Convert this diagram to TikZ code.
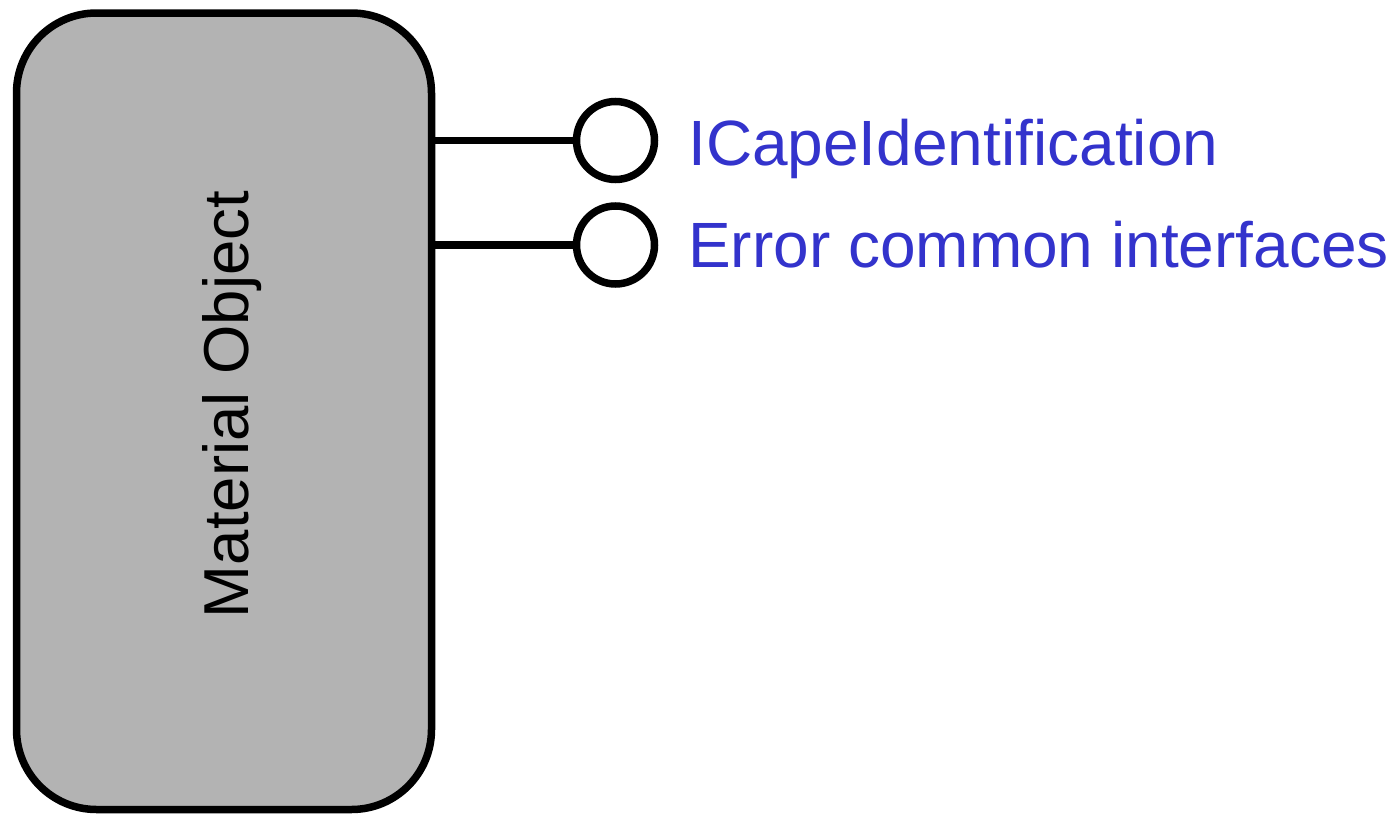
\documentclass[tikz,border=0pt]{standalone}
\usepackage{fontspec}
\setmainfont{Liberation Sans}
\definecolor{boxgray}{HTML}{B3B3B3}
\definecolor{ifblue}{HTML}{3333CC}
\begin{document}
\begin{tikzpicture}[x=1pt,y=-1pt,
  objbox/.style={draw=black, line width=7.5pt, fill=boxgray, rounded corners=80pt,
    minimum width=415pt, minimum height=796.5pt, inner sep=0pt},
  port/.style={draw=black, line width=7.5pt, fill=white, circle, minimum size=78pt, inner sep=0pt},
  wire/.style={draw=black, line width=7.5pt},
  iflabel/.style={text=ifblue, anchor=base west, inner sep=0pt, font=\fontsize{64}{72}\selectfont},
  objlabel/.style={text=black, rotate=90, anchor=base, inner sep=0pt, font=\fontsize{63.5}{72}\selectfont}]
\useasboundingbox (0,0) rectangle (1395,814);
\node[objbox] (obj) at (224,411.25) {};
\node[objlabel] (objtext) at (248,404.5) {Material Object};
\node[port] (p1) at (615.5,140.5) {};
\node[port] (p2) at (615.5,245) {};
\draw[wire] (obj.east |- p1) -- (p1.west);
\draw[wire] (obj.east |- p2) -- (p2.west);
\node[iflabel] (l1) at (688,165.7) {ICapeIdentification};
\node[iflabel] (l2) at (688,267.7) {Error common interfaces};
\end{tikzpicture}
\end{document}
